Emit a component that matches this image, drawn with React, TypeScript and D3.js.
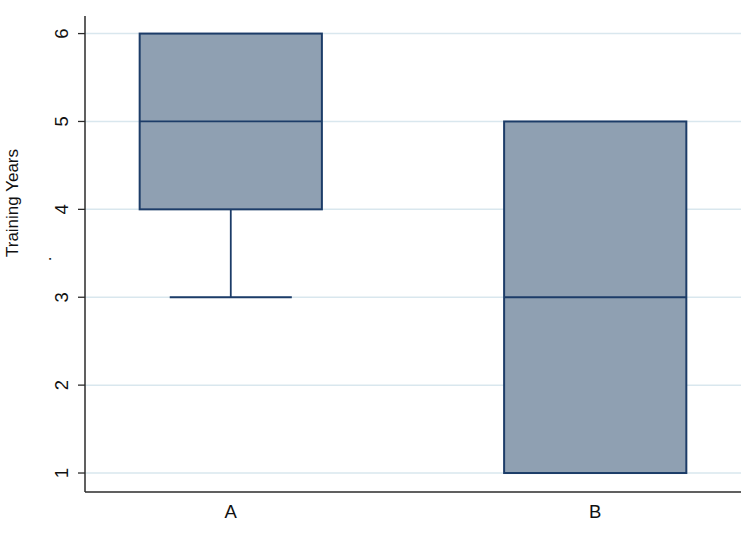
import * as d3 from "d3";

const categories = ["A", "B"];
const q1Values = [4, 1];
const medianValues = [5, 3];
const q3Values = [6, 5];
const lowerWhiskers = [3, 1];
const upperWhiskers = [6, 5];
const yTicks = [1, 2, 3, 4, 5, 6];

const WIDTH = 749;
const HEIGHT = 534;
const COLORS = {
  fill: "#8fa0b2",
  stroke: "#1c3c68",
  grid: "#d9e7ee",
  axis: "#2b2b2b",
  text: "#111111",
};

export default function App() {
  const left = 85;
  const right = 741;
  const top = 16;
  const bottom = 492;

  const y = d3.scaleLinear().domain([0.784, 6.2]).range([bottom, top]);
  const x = d3.scalePoint<string>().domain(categories).range([left, right]).padding(0.4);
  const boxW = x.step() * 0.5;
  const capW = boxW * 0.67;

  const boxes = categories.map((c, i) => ({
    cat: c,
    q1: q1Values[i],
    med: medianValues[i],
    q3: q3Values[i],
    lo: lowerWhiskers[i],
    hi: upperWhiskers[i],
  }));

  const font = "'Liberation Sans', Arial, sans-serif";

  return (
    <svg
      width={WIDTH}
      height={HEIGHT}
      style={{ position: "absolute", left: 0, top: 0, background: "#fff" }}
    >
      {/* grid lines */}
      {yTicks.map((t) => (
        <line
          key={"g" + t}
          x1={left}
          x2={right}
          y1={y(t)}
          y2={y(t)}
          stroke={COLORS.grid}
          strokeWidth={1.5}
        />
      ))}

      {/* boxes */}
      {boxes.map((b) => {
        const cx = x(b.cat) as number;
        return (
          <g key={b.cat}>
            {b.lo < b.q1 && (
              <>
                <line x1={cx} x2={cx} y1={y(b.q1)} y2={y(b.lo)} stroke={COLORS.stroke} strokeWidth={1.8} />
                <line x1={cx - capW / 2} x2={cx + capW / 2} y1={y(b.lo)} y2={y(b.lo)} stroke={COLORS.stroke} strokeWidth={1.8} />
              </>
            )}
            {b.hi > b.q3 && (
              <>
                <line x1={cx} x2={cx} y1={y(b.q3)} y2={y(b.hi)} stroke={COLORS.stroke} strokeWidth={1.8} />
                <line x1={cx - capW / 2} x2={cx + capW / 2} y1={y(b.hi)} y2={y(b.hi)} stroke={COLORS.stroke} strokeWidth={1.8} />
              </>
            )}
            <rect
              x={cx - boxW / 2}
              y={y(b.q3)}
              width={boxW}
              height={y(b.q1) - y(b.q3)}
              fill={COLORS.fill}
              stroke={COLORS.stroke}
              strokeWidth={2}
            />
            <line
              x1={cx - boxW / 2}
              x2={cx + boxW / 2}
              y1={y(b.med)}
              y2={y(b.med)}
              stroke={COLORS.stroke}
              strokeWidth={1.8}
            />
          </g>
        );
      })}

      {/* y axis */}
      <line x1={left} x2={left} y1={top} y2={bottom} stroke={COLORS.axis} strokeWidth={1.5} />
      {yTicks.map((t) => (
        <g key={"t" + t}>
          <line x1={left - 7} x2={left} y1={y(t)} y2={y(t)} stroke={COLORS.axis} strokeWidth={1.3} />
          <text
            transform={`translate(${left - 17},${y(t)}) rotate(-90)`}
            textAnchor="middle"
            fontFamily={font}
            fontSize={18.5}
            fill={COLORS.text}
          >
            {t}
          </text>
        </g>
      ))}

      {/* x axis */}
      <line x1={left} x2={right} y1={bottom} y2={bottom} stroke={COLORS.axis} strokeWidth={1.5} />
      {categories.map((c) => (
        <text
          key={"x" + c}
          x={x(c)}
          y={518}
          textAnchor="middle"
          fontFamily={font}
          fontSize={18.5}
          fill={COLORS.text}
        >
          {c}
        </text>
      ))}

      {/* y title */}
      <text
        transform="translate(18,203) rotate(-90)"
        textAnchor="middle"
        fontFamily={font}
        fontSize={17}
        fill={COLORS.text}
      >
        Training Years
      </text>
      <text
        transform="translate(51,259) rotate(-90)"
        textAnchor="middle"
        fontFamily={font}
        fontSize={17}
        fill={COLORS.text}
      >
        .
      </text>
    </svg>
  );
}
